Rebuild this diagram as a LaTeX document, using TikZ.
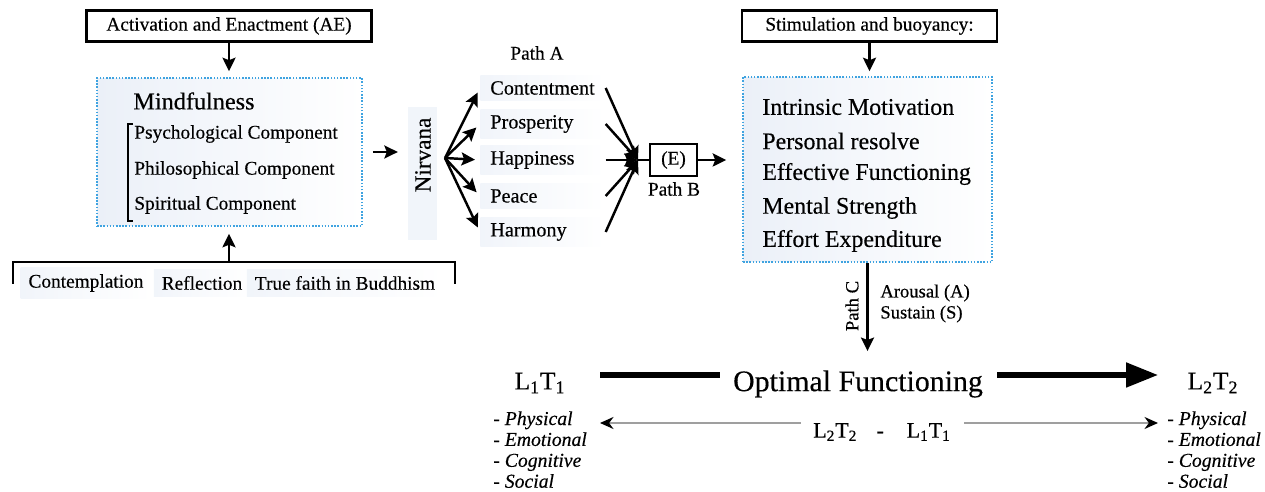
\documentclass[tikz,border=0pt]{standalone}
\usepackage{fontspec}
\setmainfont{Liberation Serif}[UprightFeatures={FakeBold=0.35},ItalicFeatures={FakeBold=0.35}]
\usetikzlibrary{arrows.meta,calc}
\definecolor{dotc}{HTML}{3FA3E0}
\definecolor{bgc}{HTML}{EBF0F8}
\begin{document}
\begin{tikzpicture}[x=0.02cm,y=-0.02cm,
  every node/.style={inner sep=0pt, font=\fontsize{11}{13}\selectfont},
  hbox/.style={draw, line width=1.4pt, minimum height=0.62cm},
  dbox/.style={draw=dotc, line width=0.9pt, dash pattern=on 0.9pt off 0.9pt, left color=bgc, right color=white},
  arr/.style={-{Stealth[length=0.27cm,width=0.26cm,inset=0.05cm]}, line width=1.4pt},
  comp/.style={anchor=west, font=\fontsize{11}{13}\selectfont},
  pnode/.style={anchor=west, text width=2.1cm, align=left, inner xsep=0.2cm, inner ysep=0.12cm,
    left color=bgc!70, right color=white, font=\fontsize{11.5}{13}\selectfont},
  rnode/.style={anchor=west, font=\fontsize{13.6}{16}\selectfont},
  bgnode/.style={inner xsep=0.16cm, inner ysep=0.14cm, left color=bgc!70, right color=white},
  bar/.style={line width=2.9pt},
  thinarr/.style={draw=gray!75, line width=1pt, -{Stealth[length=0.27cm,width=0.24cm,color=black]}},
  lst/.style={anchor=north west, align=left, font=\itshape\fontsize{11.2}{11.9}\selectfont},
  big/.style={font=\fontsize{14.5}{17}\selectfont}
]
\useasboundingbox (0,0) rectangle (1265,492);

% ---------- left part ----------
\node[hbox, minimum width=5.7cm] (ae) at (229,26) {Activation and Enactment (AE)};
\node[dbox, minimum width=5.3cm, minimum height=2.96cm] (mind) at (229.5,152) {};
\node[anchor=west, font=\fontsize{13.8}{16}\selectfont] (mt) at (133,101) {Mindfulness};
\node[comp] (c1) at (134,134) {Psychological Component};
\node[comp] (c2) at (134,170) {Philosophical Component};
\node[comp] (c3) at (134,205) {Spiritual Component};
\draw[line width=0.8pt] (133,124) -- (128,124) -- (128,221) -- (133,221);
\draw[arr, shorten >=0.12cm] (ae.south) -- (ae.south |- mind.north);

\node[bgnode] (cont) at (86,283) {Contemplation};
\node[bgnode] (refl) at (202,283) {Reflection};
\node[bgnode] (faith) at (345,283) {True faith in Buddhism};
\draw[line width=1.4pt] (13,284) -- (13,262) -- (455,262) -- (455,284);
\coordinate (brk) at (229,262);
\draw[arr, shorten >=0.14cm] (brk) -- (brk |- mind.south);

% ---------- Nirvana and Path A ----------
\fill[bgc!70] (408,107) rectangle (437,240);
\node[rotate=90, font=\fontsize{13.2}{15}\selectfont] (nir) at (423,155) {Nirvana};
\draw[arr, shorten <=0.2cm, shorten >=0.34cm] (mind.east) -- (mind.east -| nir.north);
\coordinate (nv) at (445,158);

\node (pa) at (537,53) {Path A};
\node[pnode] (p1) at (480,88) {Contentment};
\node[pnode] (p2) at (480,124) {Prosperity};
\node[pnode] (p3) at (480,160) {Happiness};
\node[pnode] (p4) at (480,196) {Peace};
\node[pnode] (p5) at (480,232) {Harmony};
\foreach \p in {p1,p2,p3,p4,p5}{
  \draw[arr, shorten >=0.1cm] (nv) -- (\p.west);
}
\coordinate (cv) at (638,160);
\foreach \p in {p1,p2,p3,p4,p5}{
  \draw[arr] (\p.east) -- (cv);
}
\node[draw, line width=1.1pt, minimum width=0.94cm, minimum height=0.64cm] (E) at (673.5,160) {(E)};
\draw[line width=1.3pt] (cv) -- (E.west);
\node (pb) at (674,189) {Path B};

% ---------- right part ----------
\node[hbox, minimum width=5.1cm] (sb) at (869.5,26) {Stimulation and buoyancy:};
\node[dbox, minimum width=4.98cm, minimum height=3.7cm] (rb) at (867.5,169.5) {};
\draw[arr, shorten >=0.1cm] (sb.south) -- (sb.south |- rb.north);
\draw[arr, shorten >=0.32cm] (E.east) -- (E.east -| rb.west);
\node[rnode] (i1) at (762,107) {Intrinsic Motivation};
\node[rnode] (i2) at (762,141) {Personal resolve};
\node[rnode] (i3) at (762,174) {Effective Functioning};
\node[rnode] (i4) at (762,208) {Mental Strength};
\node[rnode] (i5) at (762,241) {Effort Expenditure};

% ---------- Path C ----------
\node[font=\fontsize{17}{20}\selectfont] (of) at (858,384) {Optimal Functioning};
\draw[arr, shorten >=0.38cm] (rb.south) -- (rb.south |- of.north);
\node[rotate=90, font=\fontsize{10.6}{12}\selectfont] (pcl) at (852,306) {Path C};
\node[anchor=west, font=\fontsize{10.6}{12}\selectfont] (ar) at (880,293) {Arousal (A)};
\node[anchor=west, font=\fontsize{10.6}{12}\selectfont] (su) at (880,314) {Sustain (S)};

% ---------- bottom ----------
\node[big] (l1) at (540,383) {L\textsubscript{1}T\textsubscript{1}};
\node[big] (l2) at (1213,383) {L\textsubscript{2}T\textsubscript{2}};
\coordinate (b1) at (600,375);
\coordinate (b2) at (720,375);
\coordinate (b3) at (997,375);
\coordinate (b4) at (1158,375);
\draw[bar] (b1) -- (b2);
\draw[bar, -{Triangle[length=0.64cm,width=0.48cm]}] (b3) -- (b4);

\node[font=\fontsize{12.5}{14}\selectfont] (df) at (882,432)
  {L\textsubscript{2}T\textsubscript{2}\hspace{11pt}-\hspace{13pt}L\textsubscript{1}T\textsubscript{1}};
\coordinate (la) at (600,423);
\coordinate (ra) at (1158,423);
\draw[thinarr, shorten <=0.24cm] ([yshift=0.18cm]df.west) -- (la);
\draw[thinarr, shorten <=0.26cm] ([yshift=0.18cm]df.east) -- (ra);

\node[lst] (ll) at (493,411) {- Physical\\- Emotional\\- Cognitive\\- Social};
\node[lst] (rl) at (1167,411) {- Physical\\- Emotional\\- Cognitive\\- Social};
\end{tikzpicture}
\end{document}
